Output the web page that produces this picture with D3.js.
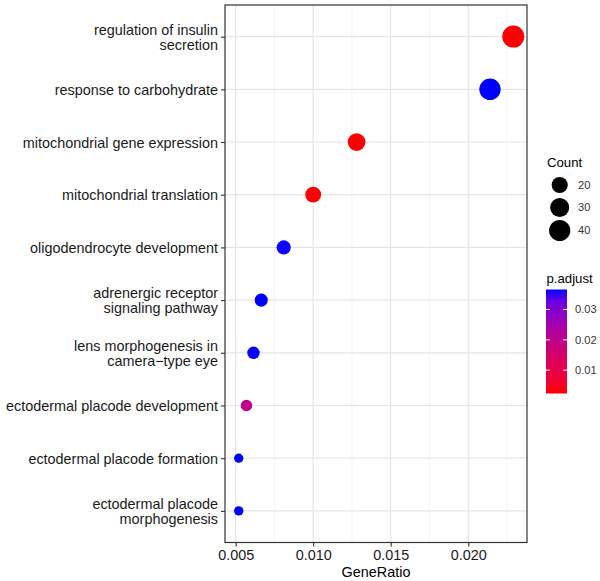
<!DOCTYPE html>
<html>
<head>
<meta charset="utf-8">
<script src="https://cdn.jsdelivr.net/npm/d3@7"></script>
<style>
  html, body { margin: 0; padding: 0; background: #fff; }
  svg { display: block; font-family: "Liberation Sans", Arial, sans-serif; }
</style>
</head>
<body>
<svg id="chart" width="600" height="581"></svg>
<script>
// ---- data (top-level) ----
const categories = [
  ["regulation of insulin", "secretion"],
  ["response to carbohydrate"],
  ["mitochondrial gene expression"],
  ["mitochondrial translation"],
  ["oligodendrocyte development"],
  ["adrenergic receptor", "signaling pathway"],
  ["lens morphogenesis in", "camera\u2212type eye"],
  ["ectodermal placode development"],
  ["ectodermal placode formation"],
  ["ectodermal placode", "morphogenesis"]
];
const geneRatio = [0.0229, 0.0214, 0.0128, 0.0100, 0.0081, 0.00665, 0.00615, 0.0057, 0.0052, 0.0052];
const counts    = [44, 41, 25, 19, 15, 13, 12, 11, 10, 10];
const pAdjust   = [0.0023, 0.0366, 0.0024, 0.0026, 0.0365, 0.0366, 0.0365, 0.0205, 0.0366, 0.0366];
const xTicks = [0.005, 0.010, 0.015, 0.020];
const xMinorTicks = [0.0075, 0.0125, 0.0175, 0.0225];
const countLegend = [20, 30, 40];
const pTicks = [0.01, 0.02, 0.03];

const rows = categories.map((c, i) => ({
  id: i, label: c, ratio: geneRatio[i], count: counts[i], p: pAdjust[i]
}));

const svg = d3.select("#chart");
const panel = { left: 225, right: 527, top: 5, bottom: 542.5 };
const fontSize = 14.4;

// scales
const xExt = d3.extent(geneRatio);
const xPad = (xExt[1] - xExt[0]) * 0.05;
const x = d3.scaleLinear().domain([xExt[0] - xPad, xExt[1] + xPad]).range([panel.left, panel.right]);
const y = d3.scalePoint().domain(rows.map(r => r.id)).range([panel.top, panel.bottom]).padding(0.6);

const cExt = d3.extent(counts);
const sizeNorm = d3.scaleLinear().domain(cExt).range([0, 1]);
const diam = d3.scaleSqrt().domain([0, 1]).range([9.3, 22]);
const radius = c => diam(sizeNorm(c)) / 2;

const pExt = d3.extent(pAdjust);
const color = d3.scaleLinear().domain(pExt).range(["red", "blue"]).interpolate(d3.interpolateLab);

// panel background
svg.append("rect").attr("x", panel.left).attr("y", panel.top)
  .attr("width", panel.right - panel.left).attr("height", panel.bottom - panel.top)
  .attr("fill", "#fff");

// grid
const grid = svg.append("g");
grid.selectAll(".minor").data(xMinorTicks).join("line")
  .attr("x1", d => x(d)).attr("x2", d => x(d))
  .attr("y1", panel.top).attr("y2", panel.bottom)
  .attr("stroke", "#f0f0f0").attr("stroke-width", 0.7);
grid.selectAll(".majx").data(xTicks).join("line")
  .attr("x1", d => x(d)).attr("x2", d => x(d))
  .attr("y1", panel.top).attr("y2", panel.bottom)
  .attr("stroke", "#e6e6e6").attr("stroke-width", 1.2);
grid.selectAll(".majy").data(rows).join("line")
  .attr("x1", panel.left).attr("x2", panel.right)
  .attr("y1", d => y(d.id)).attr("y2", d => y(d.id))
  .attr("stroke", "#e6e6e6").attr("stroke-width", 1.2);

// points
svg.append("g").selectAll("circle").data(rows).join("circle")
  .attr("cx", d => x(d.ratio)).attr("cy", d => y(d.id))
  .attr("r", d => radius(d.count))
  .attr("fill", d => color(d.p));

// border
svg.append("rect").attr("x", panel.left).attr("y", panel.top)
  .attr("width", panel.right - panel.left).attr("height", panel.bottom - panel.top)
  .attr("fill", "none").attr("stroke", "#333").attr("stroke-width", 1.2);

// x axis
const xAxis = d3.axisBottom(x).tickValues(xTicks).tickFormat(d3.format(".3f")).tickSize(4).tickPadding(3);
const gx = svg.append("g").attr("transform", `translate(0,${panel.bottom})`).call(xAxis);
gx.select(".domain").remove();
gx.selectAll(".tick line").attr("stroke", "#333").attr("stroke-width", 1.1);
gx.selectAll(".tick text").attr("font-size", fontSize).attr("fill", "#1a1a1a")
  .attr("font-family", "Liberation Sans, Arial, sans-serif");

svg.append("text").attr("x", (panel.left + panel.right) / 2).attr("y", 577)
  .attr("text-anchor", "middle").attr("font-size", fontSize).attr("fill", "#000")
  .text("GeneRatio");

// y axis
const yAxis = d3.axisLeft(y).tickSize(4).tickPadding(3).tickFormat("");
const gy = svg.append("g").attr("transform", `translate(${panel.left},0)`).call(yAxis);
gy.select(".domain").remove();
gy.selectAll(".tick line").attr("stroke", "#333").attr("stroke-width", 1.1);
gy.selectAll(".tick").each(function(id) {
  const lines = rows[id].label;
  const t = d3.select(this).append("text")
    .attr("x", -7).attr("text-anchor", "end")
    .attr("font-size", fontSize).attr("fill", "#1a1a1a")
    .attr("font-family", "Liberation Sans, Arial, sans-serif");
  const lh = 15;
  const start = -(lines.length - 1) * lh / 2;
  lines.forEach((ln, k) => {
    t.append("tspan").attr("x", -7).attr("y", start + k * lh).attr("dy", "0.35em").text(ln);
  });
});

// ---- legends ----
const lg = svg.append("g");
lg.append("text").attr("x", 547).attr("y", 167).attr("font-size", 13.2).attr("fill", "#000").text("Count");
const cy0 = [185, 207.5, 230.5];
countLegend.forEach((c, i) => {
  lg.append("circle").attr("cx", 559.7).attr("cy", cy0[i]).attr("r", radius(c)).attr("fill", "#000");
  lg.append("text").attr("x", 578).attr("y", cy0[i]).attr("dy", "0.35em")
    .attr("font-size", 11.1).attr("fill", "#333").text(c);
});

lg.append("text").attr("x", 546.5).attr("y", 282.5).attr("font-size", 13.2).attr("fill", "#000").text("p.adjust");

const barX = 546, barW = 21, barTop = 289.5, barBot = 393.5;
const pScale = d3.scaleLinear().domain(pExt).range([barBot, barTop]);
const defs = svg.append("defs");
const grad = defs.append("linearGradient").attr("id", "pgrad")
  .attr("x1", 0).attr("y1", 1).attr("x2", 0).attr("y2", 0);
d3.range(0, 1.0001, 0.1).forEach(t => {
  grad.append("stop").attr("offset", t).attr("stop-color", color(pExt[0] + t * (pExt[1] - pExt[0])));
});
lg.append("rect").attr("x", barX).attr("y", barTop).attr("width", barW).attr("height", barBot - barTop)
  .attr("fill", "url(#pgrad)");
pTicks.forEach(v => {
  const yy = pScale(v);
  lg.append("line").attr("x1", barX).attr("x2", barX + 4).attr("y1", yy).attr("y2", yy)
    .attr("stroke", "#fff").attr("stroke-width", 1);
  lg.append("line").attr("x1", barX + barW - 4).attr("x2", barX + barW).attr("y1", yy).attr("y2", yy)
    .attr("stroke", "#fff").attr("stroke-width", 1);
  lg.append("text").attr("x", 575).attr("y", yy).attr("dy", "0.35em")
    .attr("font-size", 11.1).attr("fill", "#333").text(v.toFixed(2));
});
</script>
</body>
</html>
